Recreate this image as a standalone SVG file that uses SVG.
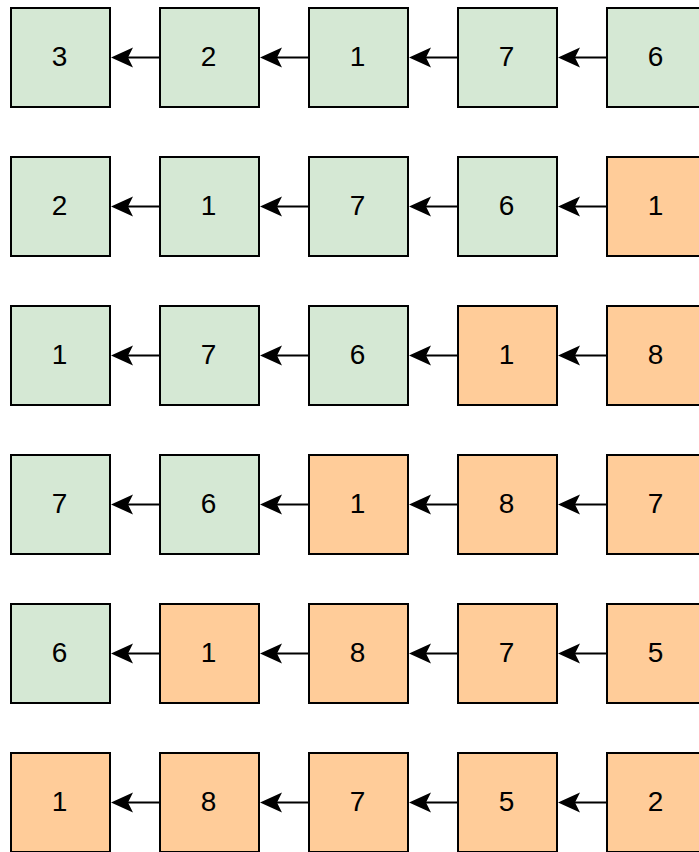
<svg xmlns="http://www.w3.org/2000/svg" width="699" height="852" viewBox="0 0 699 852">
<style>
.n rect{stroke:#000;stroke-width:2}
.g rect{fill:#d5e8d4}
.o rect{fill:#ffcc99}
.n text{font-family:"Liberation Sans",Arial,sans-serif;font-size:28px;fill:#000;text-anchor:middle}
.c line{stroke:#000;stroke-width:2}
</style>
<defs>
<marker id="ah" markerUnits="userSpaceOnUse" markerWidth="24" markerHeight="22" viewBox="0 0 24 22" refX="17" refY="11" orient="auto">
<path d="M0,1 L22,11 L0,21 L5,11 Z" fill="#000"/>
</marker>
</defs>
<rect width="699" height="852" fill="#fff"/>
<g id="connectors" class="c">
<line x1="160" y1="57.5" x2="116" y2="57.5" marker-end="url(#ah)"/>
<line x1="309" y1="57.5" x2="265" y2="57.5" marker-end="url(#ah)"/>
<line x1="458" y1="57.5" x2="414" y2="57.5" marker-end="url(#ah)"/>
<line x1="607" y1="57.5" x2="563" y2="57.5" marker-end="url(#ah)"/>
<line x1="160" y1="206.5" x2="116" y2="206.5" marker-end="url(#ah)"/>
<line x1="309" y1="206.5" x2="265" y2="206.5" marker-end="url(#ah)"/>
<line x1="458" y1="206.5" x2="414" y2="206.5" marker-end="url(#ah)"/>
<line x1="607" y1="206.5" x2="563" y2="206.5" marker-end="url(#ah)"/>
<line x1="160" y1="355.5" x2="116" y2="355.5" marker-end="url(#ah)"/>
<line x1="309" y1="355.5" x2="265" y2="355.5" marker-end="url(#ah)"/>
<line x1="458" y1="355.5" x2="414" y2="355.5" marker-end="url(#ah)"/>
<line x1="607" y1="355.5" x2="563" y2="355.5" marker-end="url(#ah)"/>
<line x1="160" y1="504.5" x2="116" y2="504.5" marker-end="url(#ah)"/>
<line x1="309" y1="504.5" x2="265" y2="504.5" marker-end="url(#ah)"/>
<line x1="458" y1="504.5" x2="414" y2="504.5" marker-end="url(#ah)"/>
<line x1="607" y1="504.5" x2="563" y2="504.5" marker-end="url(#ah)"/>
<line x1="160" y1="653.5" x2="116" y2="653.5" marker-end="url(#ah)"/>
<line x1="309" y1="653.5" x2="265" y2="653.5" marker-end="url(#ah)"/>
<line x1="458" y1="653.5" x2="414" y2="653.5" marker-end="url(#ah)"/>
<line x1="607" y1="653.5" x2="563" y2="653.5" marker-end="url(#ah)"/>
<line x1="160" y1="802.5" x2="116" y2="802.5" marker-end="url(#ah)"/>
<line x1="309" y1="802.5" x2="265" y2="802.5" marker-end="url(#ah)"/>
<line x1="458" y1="802.5" x2="414" y2="802.5" marker-end="url(#ah)"/>
<line x1="607" y1="802.5" x2="563" y2="802.5" marker-end="url(#ah)"/>
</g>
<g id="r1c1" class="n g"><rect x="11" y="8" width="99" height="99"/><text x="59.5" y="65.5">3</text></g>
<g id="r1c2" class="n g"><rect x="160" y="8" width="99" height="99"/><text x="208.5" y="65.5">2</text></g>
<g id="r1c3" class="n g"><rect x="309" y="8" width="99" height="99"/><text x="357.5" y="65.5">1</text></g>
<g id="r1c4" class="n g"><rect x="458" y="8" width="99" height="99"/><text x="506.5" y="65.5">7</text></g>
<g id="r1c5" class="n g"><rect x="607" y="8" width="99" height="99"/><text x="655.5" y="65.5">6</text></g>
<g id="r2c1" class="n g"><rect x="11" y="157" width="99" height="99"/><text x="59.5" y="214.5">2</text></g>
<g id="r2c2" class="n g"><rect x="160" y="157" width="99" height="99"/><text x="208.5" y="214.5">1</text></g>
<g id="r2c3" class="n g"><rect x="309" y="157" width="99" height="99"/><text x="357.5" y="214.5">7</text></g>
<g id="r2c4" class="n g"><rect x="458" y="157" width="99" height="99"/><text x="506.5" y="214.5">6</text></g>
<g id="r2c5" class="n o"><rect x="607" y="157" width="99" height="99"/><text x="655.5" y="214.5">1</text></g>
<g id="r3c1" class="n g"><rect x="11" y="306" width="99" height="99"/><text x="59.5" y="363.5">1</text></g>
<g id="r3c2" class="n g"><rect x="160" y="306" width="99" height="99"/><text x="208.5" y="363.5">7</text></g>
<g id="r3c3" class="n g"><rect x="309" y="306" width="99" height="99"/><text x="357.5" y="363.5">6</text></g>
<g id="r3c4" class="n o"><rect x="458" y="306" width="99" height="99"/><text x="506.5" y="363.5">1</text></g>
<g id="r3c5" class="n o"><rect x="607" y="306" width="99" height="99"/><text x="655.5" y="363.5">8</text></g>
<g id="r4c1" class="n g"><rect x="11" y="455" width="99" height="99"/><text x="59.5" y="512.5">7</text></g>
<g id="r4c2" class="n g"><rect x="160" y="455" width="99" height="99"/><text x="208.5" y="512.5">6</text></g>
<g id="r4c3" class="n o"><rect x="309" y="455" width="99" height="99"/><text x="357.5" y="512.5">1</text></g>
<g id="r4c4" class="n o"><rect x="458" y="455" width="99" height="99"/><text x="506.5" y="512.5">8</text></g>
<g id="r4c5" class="n o"><rect x="607" y="455" width="99" height="99"/><text x="655.5" y="512.5">7</text></g>
<g id="r5c1" class="n g"><rect x="11" y="604" width="99" height="99"/><text x="59.5" y="661.5">6</text></g>
<g id="r5c2" class="n o"><rect x="160" y="604" width="99" height="99"/><text x="208.5" y="661.5">1</text></g>
<g id="r5c3" class="n o"><rect x="309" y="604" width="99" height="99"/><text x="357.5" y="661.5">8</text></g>
<g id="r5c4" class="n o"><rect x="458" y="604" width="99" height="99"/><text x="506.5" y="661.5">7</text></g>
<g id="r5c5" class="n o"><rect x="607" y="604" width="99" height="99"/><text x="655.5" y="661.5">5</text></g>
<g id="r6c1" class="n o"><rect x="11" y="753" width="99" height="99"/><text x="59.5" y="810.5">1</text></g>
<g id="r6c2" class="n o"><rect x="160" y="753" width="99" height="99"/><text x="208.5" y="810.5">8</text></g>
<g id="r6c3" class="n o"><rect x="309" y="753" width="99" height="99"/><text x="357.5" y="810.5">7</text></g>
<g id="r6c4" class="n o"><rect x="458" y="753" width="99" height="99"/><text x="506.5" y="810.5">5</text></g>
<g id="r6c5" class="n o"><rect x="607" y="753" width="99" height="99"/><text x="655.5" y="810.5">2</text></g>
</svg>
